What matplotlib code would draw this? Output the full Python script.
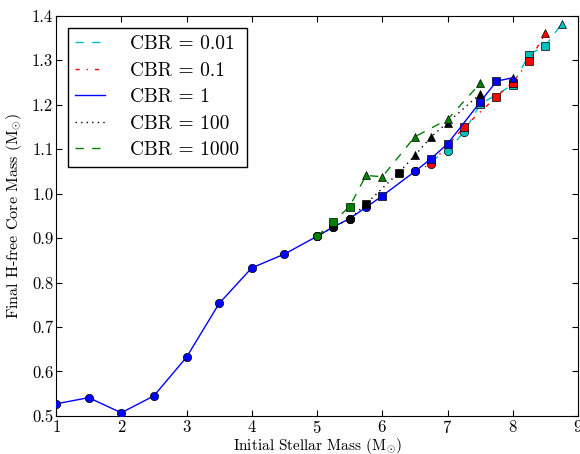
import numpy as np
import matplotlib
matplotlib.use('Agg')
import matplotlib.pyplot as plt

plt.rcParams['font.family'] = 'cmr10'
plt.rcParams['mathtext.fontset'] = 'cm'
plt.rcParams['axes.formatter.use_mathtext'] = True

# CBR = 0.01
x_001 = [6.75, 7.0, 7.25, 7.5, 8.0, 8.25, 8.5, 8.75]
y_001 = [1.073, 1.097, 1.138, 1.201, 1.245, 1.313, 1.333, 1.382]
m_001 = ['o', 'o', 'o', 's', 's', 's', 's', '^']

# CBR = 0.1
x_01 = [6.5, 6.75, 7.25, 7.75, 8.0, 8.25, 8.5]
y_01 = [1.050, 1.067, 1.149, 1.218, 1.250, 1.298, 1.361]
m_01 = ['o', 'o', 's', 's', 's', 's', '^']

# CBR = 1
x_1 = [1, 1.5, 2, 2.5, 3, 3.5, 4, 4.5, 5, 5.25, 5.5, 5.75, 6, 6.5, 6.75, 7, 7.5, 7.75, 8]
y_1 = [0.527, 0.541, 0.507, 0.545, 0.632, 0.753, 0.833, 0.864, 0.904, 0.925, 0.944,
       0.969, 0.995, 1.050, 1.079, 1.112, 1.206, 1.253, 1.261]
m_1 = ['o'] * 12 + ['s', 'o', 's', 's', 's', 's', '^']

# CBR = 100
x_100 = [5.0, 5.25, 5.5, 5.75, 6.25, 6.5, 6.75, 7.0, 7.5]
y_100 = [0.904, 0.925, 0.943, 0.977, 1.047, 1.086, 1.128, 1.160, 1.224]
m_100 = ['o', 'o', 'o', 's', 's', '^', '^', '^', '^']

# CBR = 1000
x_1000 = [5.0, 5.25, 5.5, 5.75, 6.0, 6.5, 7.0, 7.5]
y_1000 = [0.904, 0.937, 0.971, 1.041, 1.038, 1.128, 1.167, 1.248]
m_1000 = ['o', 's', 's', '^', '^', '^', '^', '^']

# label, x, y, markers, colour, dash pattern (classic style)
series = [
    ('CBR = 0.01', x_001, y_001, m_001, (0, 0.75, 0.75), (6, 6)),
    ('CBR = 0.1', x_01, y_01, m_01, 'r', (3, 5, 1, 5)),
    ('CBR = 1', x_1, y_1, m_1, 'b', None),
    ('CBR = 100', x_100, y_100, m_100, 'k', (1, 3)),
    ('CBR = 1000', x_1000, y_1000, m_1000, (0, 0.5, 0), (6, 6)),
]

fig = plt.figure(figsize=(5.8, 4.54), dpi=100)
ax = fig.add_axes([0.0966, 0.084, 0.9, 0.881])

handles = []
for z, (label, xs, ys, ms, col, dash) in enumerate(series):
    ln, = ax.plot(xs, ys, color=col, lw=1, zorder=2 + 2 * z, label=label)
    if dash is not None:
        ln.set_dashes(dash)
    handles.append(ln)
    for mk in ['o', 's', '^']:
        px = [a for a, m in zip(xs, ms) if m == mk]
        py = [b for b, m in zip(ys, ms) if m == mk]
        if px:
            ax.plot(px, py, linestyle='none', marker=mk, markersize=6,
                    markerfacecolor=col, markeredgecolor='k', markeredgewidth=0.5,
                    zorder=3 + 2 * z)

ax.set_xlim(1, 9)
ax.set_ylim(0.5, 1.4)
ax.set_xticks(np.arange(1, 10, 1))
ax.set_yticks(np.arange(0.5, 1.41, 0.1))
ax.set_yticklabels(['%.1f' % v for v in np.arange(0.5, 1.41, 0.1)])
ax.tick_params(direction='in', top=True, right=True, length=4, labelsize=12, pad=2)
ax.set_xlabel(r'Initial Stellar Mass (M$_{\odot}$)', fontsize=11)
ax.set_ylabel(r'Final H-free Core Mass (M$_{\odot}$)', fontsize=11.5)
ax.xaxis.set_label_coords(0.5, -0.05)
ax.yaxis.set_label_coords(-0.062, 0.5)

leg = ax.legend(handles=handles, loc='upper left', fontsize=14, handlelength=1.5,
                fancybox=False, framealpha=1, edgecolor='k', borderaxespad=0.6,
                labelspacing=0.44, handletextpad=1.3)
leg.get_frame().set_linewidth(1)

fig.savefig('out.png', dpi=100)
